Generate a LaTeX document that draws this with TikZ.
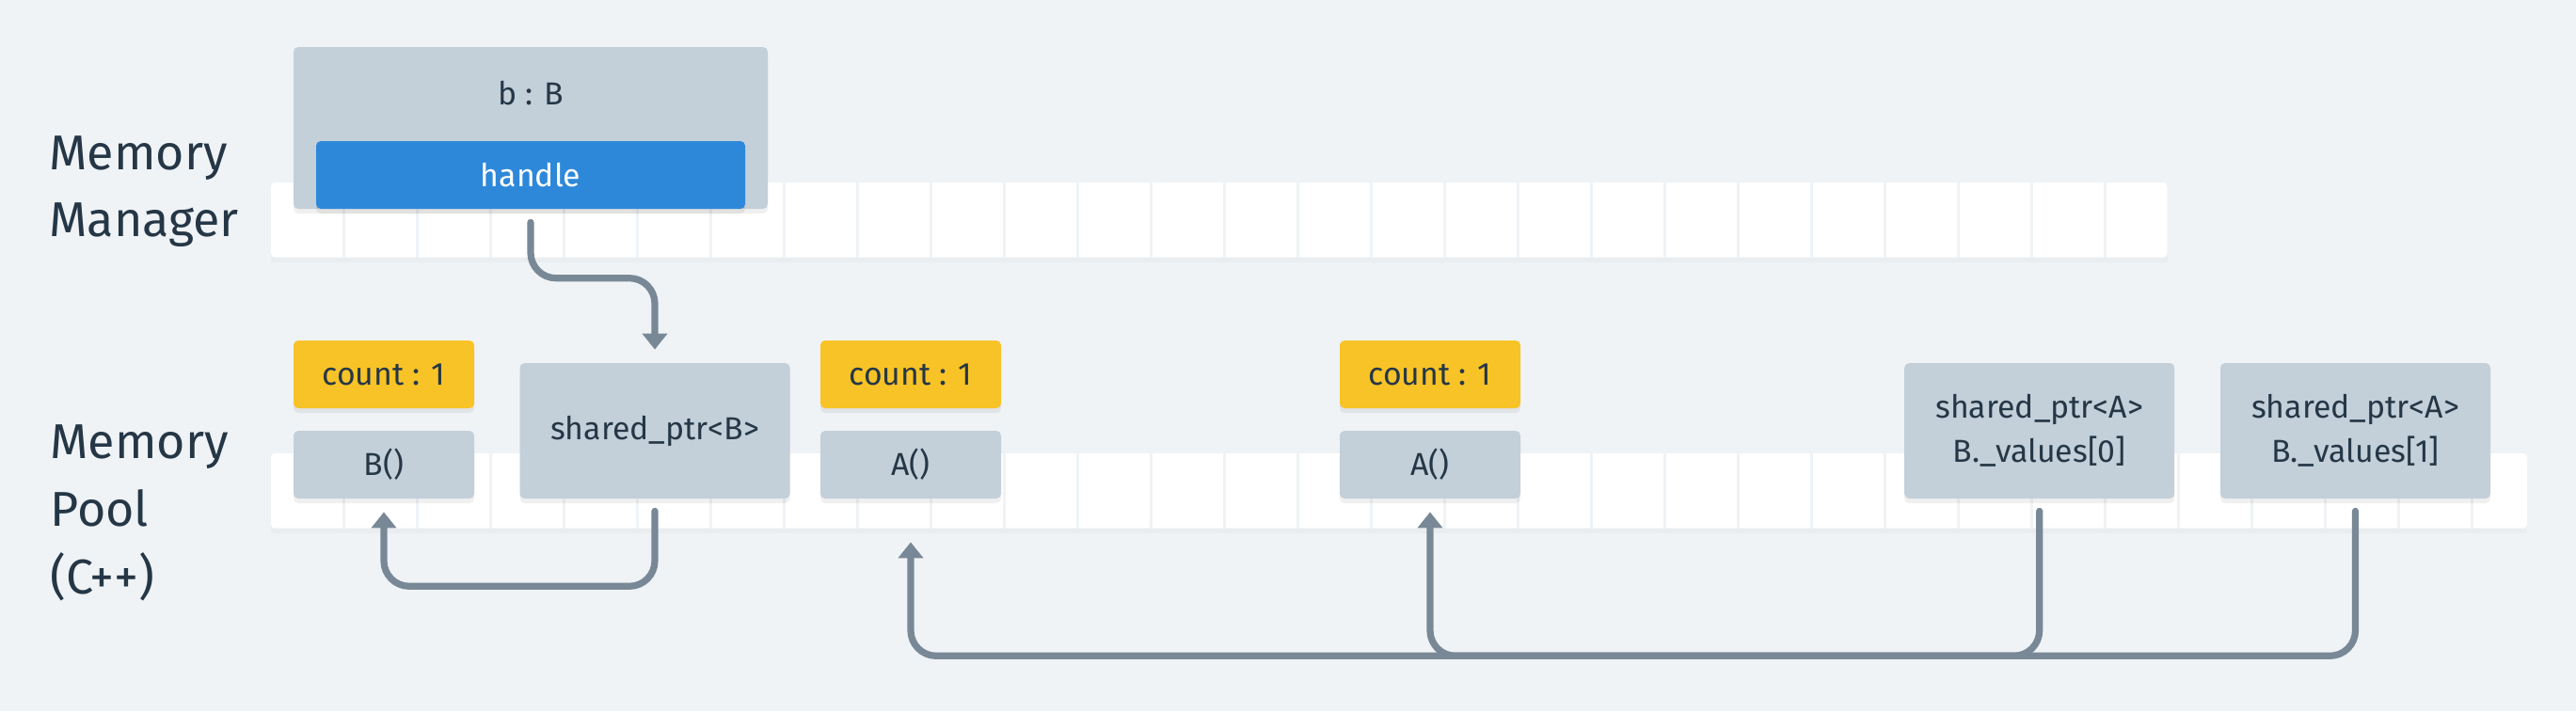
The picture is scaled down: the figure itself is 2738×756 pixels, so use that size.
\documentclass[tikz,border=0pt]{standalone}
\usepackage{fontspec}
\setmainfont{Fira Sans}
\usetikzlibrary{arrows.meta,shadows}
\definecolor{bg}{HTML}{EFF3F6}
\definecolor{boxgray}{HTML}{C3CFD9}
\definecolor{handleblue}{HTML}{2D88D9}
\definecolor{cntyellow}{HTML}{F8C327}
\definecolor{arrowgray}{HTML}{788896}
\definecolor{ink}{HTML}{253746}
\tikzset{
  box/.style={draw=none, rounded corners=2.5pt, inner sep=0pt, text=ink,
    font=\fontsize{16.9}{23.3}\selectfont, align=center,
    drop shadow={shadow xshift=0pt, shadow yshift=-2.5pt, opacity=0.06, fill=black}},
  graybox/.style={box, fill=boxgray},
  countbox/.style={box, fill=cntyellow, minimum width=96pt, minimum height=36pt},
  smallbox/.style={graybox, minimum width=96pt, minimum height=36pt},
  ptrbox/.style={graybox, minimum width=143.5pt, minimum height=72pt},
  strip/.style={fill=white, rounded corners=2pt},
  cellline/.style={draw=bg, line width=1.6pt},
  arr/.style={draw=arrowgray, line width=3.6pt, line cap=round, rounded corners=13.5pt,
    -{Triangle[width=13pt,length=8.5pt]}},
  lbl/.style={text=ink, font=\fontsize{26}{35.8}\selectfont, align=left, inner sep=0pt},
  plain/.style={text=ink, font=\fontsize{16.9}{23.3}\selectfont, inner sep=0pt},
}
\begin{document}
\begin{tikzpicture}[x=0.5pt, y=-0.5pt]
  \useasboundingbox (0,0) rectangle (2738,756);
  \fill[bg] (0,0) rectangle (2738,756);

  % memory strips
  \fill[black, opacity=0.025] (288,196) rectangle (2303.5,279);
  \path[strip] (288,194) rectangle (2303.5,273.5);
  \foreach \k in {0,...,24} \draw[cellline] (365.7+78*\k,194) -- (365.7+78*\k,273.5);
  \fill[black, opacity=0.025] (288,484) rectangle (2686,567);
  \path[strip] (288,482) rectangle (2686,561.7);
  \foreach \k in {0,...,29} \draw[cellline] (365.7+78*\k,482) -- (365.7+78*\k,561.7);

  % labels
  \node[lbl, anchor=base west] (mm) at (52,251.7) {Memory\\Manager};
  \node[lbl, anchor=base west] (mp) at (53,631) {Memory\\Pool\\(C++)};

  % memory manager object
  \node[graybox, minimum width=252pt, minimum height=86pt] (bb) at (564,136) {};
  \node[plain] (bl) at (564,99) {b : B};
  \node[box, fill=handleblue, text=white, minimum width=228pt, minimum height=36pt] (handle) at (564,186) {handle};

  % memory pool objects
  \node[countbox] (cnt1) at (408,398) {count : 1};
  \node[smallbox] (bc) at (408,494) {B()};
  \node[ptrbox] (spb) at (696,458) {shared\_ptr<B>};
  \node[countbox] (cnt2) at (968,398) {count : 1};
  \node[smallbox] (ac1) at (968,494) {A()};
  \node[countbox] (cnt3) at (1520,398) {count : 1};
  \node[smallbox] (ac2) at (1520,494) {A()};
  \node[ptrbox] (spa0) at (2167.7,458) {shared\_ptr<A>\\B.\_values[0]};
  \node[ptrbox] (spa1) at (2503.5,458) {shared\_ptr<A>\\B.\_values[1]};

  % connectors
  \coordinate (hy) at (0,295.7);
  \coordinate (by) at (0,623.3);
  \coordinate (busy) at (0,697.3);
  \draw[arr] ([yshift=-7pt]handle.south) -- (handle.south |- hy) -| ([yshift=7pt]spb.north);
  \draw[arr] ([yshift=-6.5pt]spb.south) -- (spb.south |- by) -| ([yshift=-7pt]bc.south);
  \draw[arr] ([yshift=-6.5pt]spa1.south) -- (spa1.south |- busy) -| ([yshift=-23pt]ac1.south);
  \draw[arr] ([yshift=-6.5pt]spa0.south) -- (spa0.south |- busy) -| ([yshift=-7pt]ac2.south);
\end{tikzpicture}
\end{document}
